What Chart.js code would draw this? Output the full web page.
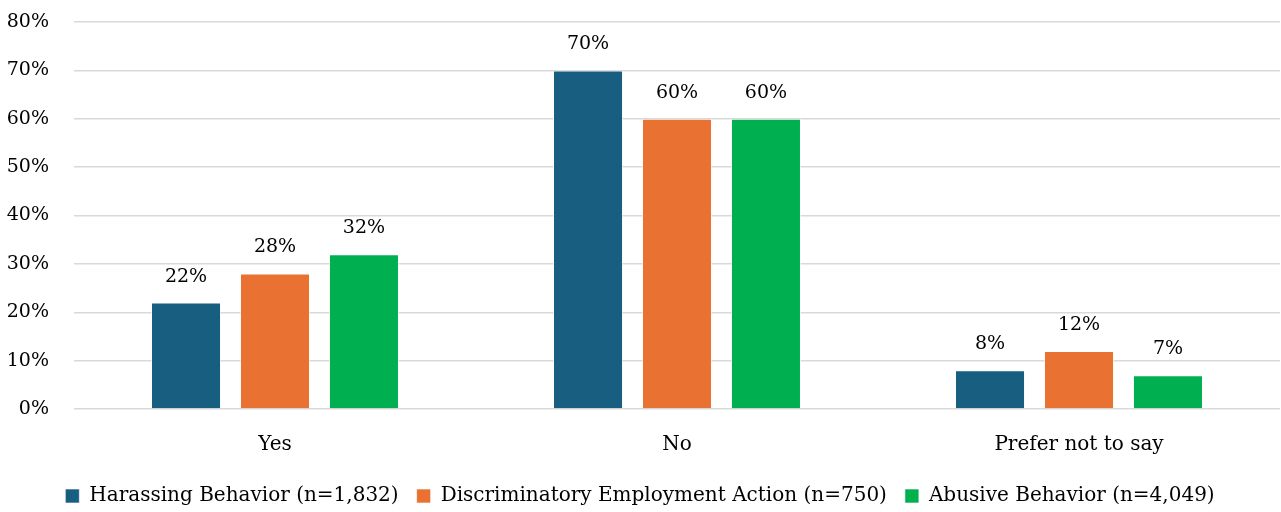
<!DOCTYPE html>
<html>
<head>
<meta charset="utf-8">
<script src="https://cdn.jsdelivr.net/npm/chart.js@4"></script>
<style>
    html, body { margin: 0; padding: 0; background: #ffffff; }
    #grafico { display: block; }
</style>
</head>
<body>
<canvas id="grafico" width="1281" height="512"></canvas>
<script>
const categorias = ['Yes', 'No', 'Prefer not to say'];
const assedio = [22, 70, 8];
const discriminacao = [28, 60, 12];
const abuso = [32, 60, 7];
const nomesSeries = [
    'Harassing Behavior (n=1,832)',
    'Discriminatory Employment Action (n=750)',
    'Abusive Behavior (n=4,049)'
];
const coresSeries = ['#175e81', '#e97132', '#00b050'];

const fonte = 'DejaVu Serif';

// escreve o valor em cima de cada barra
const rotulosBarras = {
    id: 'rotulosBarras',
    afterDatasetsDraw(chart) {
        const ctx = chart.ctx;
        ctx.save();
        ctx.font = `19px "${fonte}"`;
        ctx.fillStyle = '#000000';
        ctx.textAlign = 'center';
        ctx.textBaseline = 'middle';
        chart.data.datasets.forEach((ds, i) => {
            chart.getDatasetMeta(i).data.forEach((barra, j) => {
                ctx.fillText(ds.data[j] + '%', barra.x, barra.y - 26);
            });
        });
        ctx.restore();
    }
};

const ctxGrafico = document.getElementById('grafico').getContext('2d');
new Chart(ctxGrafico, {
    type: 'bar',
    data: {
        labels: categorias,
        datasets: [assedio, discriminacao, abuso].map((valores, i) => ({
            label: nomesSeries[i],
            data: valores,
            backgroundColor: coresSeries[i],
            borderColor: 'rgba(255,255,255,0.6)',
            borderWidth: 1,
            barPercentage: 0.787,
            categoryPercentage: 0.664
        }))
    },
    options: {
        responsive: false,
        animation: false,
        layout: { padding: { top: 22, right: 1, left: 0, bottom: -4 } },
        plugins: {
            tooltip: { enabled: false },
            legend: {
                position: 'bottom',
                labels: {
                    color: '#000000',
                    font: { family: fonte, size: 20 },
                    boxWidth: 14,
                    boxHeight: 14,
                    padding: 18,
                    useBorderRadius: false
                }
            }
        },
        scales: {
            x: {
                grid: { display: false },
                border: { display: false },
                ticks: { color: '#000000', font: { family: fonte, size: 20 }, padding: 16 },
                afterFit: scale => { scale.height = 59; }
            },
            y: {
                min: 0,
                max: 80,
                ticks: {
                    stepSize: 10,
                    color: '#000000',
                    font: { family: fonte, size: 19 },
                    padding: 25,
                    callback: v => v + '%'
                },
                afterFit: scale => {
                    scale.width = 74;
                    scale.paddingTop = 0;
                    scale.paddingBottom = 0;
                },
                grid: { color: '#d9d9d9', lineWidth: 1.5, drawTicks: false },
                border: { display: false }
            }
        }
    },
    plugins: [rotulosBarras]
});
</script>
</body>
</html>
